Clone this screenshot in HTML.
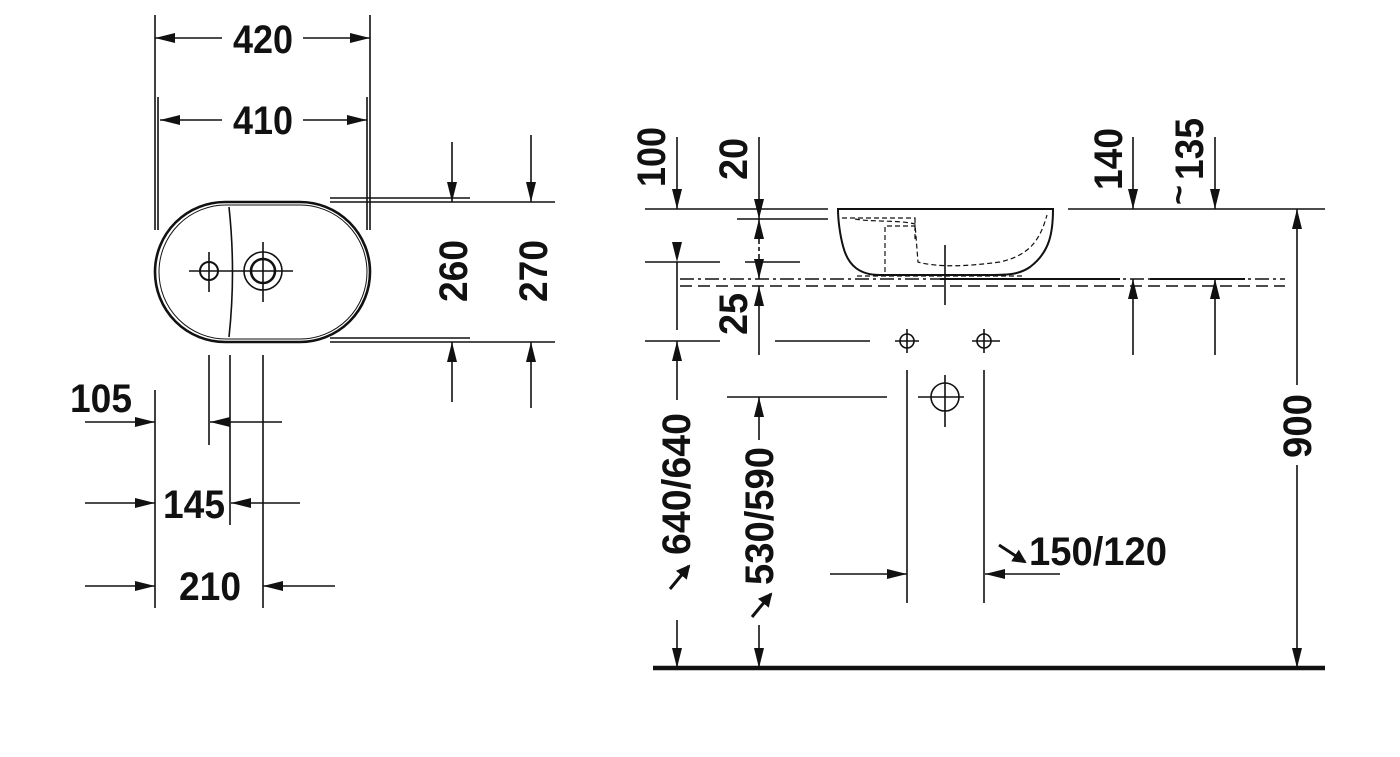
<!DOCTYPE html>
<html><head><style>body{margin:0;background:#fff}svg{display:block}</style></head><body>
<svg width="1400" height="757" viewBox="0 0 1400 757" xmlns="http://www.w3.org/2000/svg" font-family="Liberation Sans, sans-serif" font-weight="bold" font-size="40" fill="#111">
<defs>
<marker id="a" viewBox="0 0 20 10" refX="20" refY="5" markerWidth="20" markerHeight="10" markerUnits="userSpaceOnUse" orient="auto"><path d="M0,0L20,5L0,10z" fill="#111"/></marker>
<marker id="b" viewBox="0 0 20 10" refX="0" refY="5" markerWidth="20" markerHeight="10" markerUnits="userSpaceOnUse" orient="auto"><path d="M20,0L0,5L20,10z" fill="#111"/></marker>
<marker id="c" viewBox="0 0 14 14" refX="12" refY="7" markerWidth="14" markerHeight="14" markerUnits="userSpaceOnUse" orient="auto"><path d="M0,0L14,7L0,14z" fill="#111"/></marker>
</defs>
<g stroke="#111" stroke-width="1.6" fill="none">
<path d="M155,15V230M370,15V230M158,97V230M367,97V230M155,390V608M209,355V445M230,355V525M263,355V608"/>
<path d="M330,202H555M330,198H470M330,342H555M330,338H470"/>
<line x1="222" y1="38" x2="155" y2="38" marker-end="url(#a)"/>
<line x1="303" y1="38" x2="370" y2="38" marker-end="url(#a)"/>
<line x1="222" y1="120" x2="160" y2="120" marker-end="url(#a)"/>
<line x1="303" y1="120" x2="367" y2="120" marker-end="url(#a)"/>
<line x1="452" y1="142" x2="452" y2="202" marker-end="url(#a)"/>
<line x1="452" y1="402" x2="452" y2="342" marker-end="url(#a)"/>
<line x1="531" y1="135" x2="531" y2="202" marker-end="url(#a)"/>
<line x1="531" y1="408" x2="531" y2="342" marker-end="url(#a)"/>
<line x1="85" y1="422" x2="155" y2="422" marker-end="url(#a)"/>
<line x1="282" y1="422" x2="210" y2="422" marker-end="url(#a)"/>
<line x1="85" y1="503" x2="155" y2="503" marker-end="url(#a)"/>
<line x1="300" y1="503" x2="231" y2="503" marker-end="url(#a)"/>
<line x1="85" y1="586" x2="155" y2="586" marker-end="url(#a)"/>
<line x1="335" y1="586" x2="263" y2="586" marker-end="url(#a)"/>
<path d="M225,202H300A70,70 0 0 1 300,342H225A70,70 0 0 1 225,202z" stroke-width="2.6"/>
<path d="M226,205H300A67,67 0 0 1 300,339H226A67,67 0 0 1 226,205z" stroke-width="1"/>
<path d="M229,207Q236,272 229,337"/>
<circle cx="209" cy="271" r="9" stroke-width="2"/>
<path d="M189,271H293M209,252V292M263,242V302"/>
<circle cx="263" cy="271" r="12" stroke-width="2.6"/>
<circle cx="263" cy="271" r="19"/>
<path d="M645,209H828M1068,209H1325M737,219H828M645,262H720M745,262H800M645,341H720M775,341H870M727,397H887"/>
<path d="M838,209H1053C1053,232 1050,252 1030,267C1020,274 1010,275 990,275H880C860,275 848,266 843,246C840,235 838,220 838,209z" stroke-width="2"/>
<path d="M842,218H915V226H885V272M915,218V240M857,276H1025" stroke-dasharray="5,3" stroke-width="1.2"/>
<path d="M855,219C870,222 900,220 915,224L918,262C940,268 970,266 1000,262C1030,255 1040,240 1047,215" stroke-dasharray="5,3" stroke-width="1.2"/>
<path d="M945,245V305"/>
<path d="M680,279H1285" stroke-dasharray="14,4,3,4"/>
<path d="M680,286H1285" stroke-dasharray="12,6"/>
<path d="M940,279H1120M1150,279H1245" stroke-width="2"/>
<line x1="677" y1="137" x2="677" y2="209" marker-end="url(#a)"/>
<line x1="677" y1="330" x2="677" y2="262" marker-end="url(#b)"/>
<line x1="677" y1="400" x2="677" y2="341" marker-end="url(#a)"/>
<line x1="677" y1="620" x2="677" y2="668" marker-end="url(#a)"/>
<line x1="759" y1="137" x2="759" y2="219" marker-end="url(#a)"/>
<line x1="759" y1="240" x2="759" y2="219" marker-end="url(#a)"/>
<line x1="759" y1="258" x2="759" y2="279" marker-end="url(#a)"/>
<path d="M759,240V258" stroke-dasharray="4,3"/>
<line x1="759" y1="355" x2="759" y2="286" marker-end="url(#a)"/>
<line x1="759" y1="440" x2="759" y2="397" marker-end="url(#a)"/>
<line x1="759" y1="625" x2="759" y2="668" marker-end="url(#a)"/>
<line x1="1133" y1="137" x2="1133" y2="209" marker-end="url(#a)"/>
<line x1="1133" y1="355" x2="1133" y2="279" marker-end="url(#a)"/>
<line x1="1215" y1="137" x2="1215" y2="209" marker-end="url(#a)"/>
<line x1="1215" y1="355" x2="1215" y2="279" marker-end="url(#a)"/>
<line x1="1297" y1="385" x2="1297" y2="209" marker-end="url(#a)"/>
<line x1="1297" y1="465" x2="1297" y2="668" marker-end="url(#a)"/>
<circle cx="907" cy="341" r="7"/><circle cx="984" cy="341" r="7"/>
<path d="M895,341H919M907,329V353M972,341H1000M984,329V353"/>
<circle cx="945" cy="397" r="14"/>
<path d="M918,397H964M945,375V427M907,370V603M984,370V603"/>
<line x1="830" y1="574" x2="907" y2="574" marker-end="url(#a)"/>
<line x1="1060" y1="574" x2="985" y2="574" marker-end="url(#a)"/>
<line x1="999" y1="545" x2="1025" y2="562" marker-end="url(#c)" stroke-width="3"/>
<line x1="670" y1="589" x2="689" y2="566" marker-end="url(#c)" stroke-width="3"/>
<line x1="752" y1="617" x2="771" y2="594" marker-end="url(#c)" stroke-width="3"/>
<path d="M653,668H1325" stroke-width="4.5"/>
</g>
<g stroke="none">
<text x="233" y="53" textLength="60" lengthAdjust="spacingAndGlyphs">420</text>
<text x="233" y="134" textLength="60" lengthAdjust="spacingAndGlyphs">410</text>
<text x="70" y="412" textLength="62" lengthAdjust="spacingAndGlyphs">105</text>
<text x="163" y="518" textLength="62" lengthAdjust="spacingAndGlyphs">145</text>
<text x="179" y="600" textLength="62" lengthAdjust="spacingAndGlyphs">210</text>
<text x="1029" y="565" textLength="138" lengthAdjust="spacingAndGlyphs">150/120</text>
<text transform="translate(467,302) rotate(-90)" textLength="62" lengthAdjust="spacingAndGlyphs">260</text>
<text transform="translate(547,302) rotate(-90)" textLength="62" lengthAdjust="spacingAndGlyphs">270</text>
<text transform="translate(665,187) rotate(-90)" textLength="60" lengthAdjust="spacingAndGlyphs">100</text>
<text transform="translate(747,180) rotate(-90)" textLength="42" lengthAdjust="spacingAndGlyphs">20</text>
<text transform="translate(747,335) rotate(-90)" textLength="42" lengthAdjust="spacingAndGlyphs">25</text>
<text transform="translate(1122,190) rotate(-90)" textLength="62" lengthAdjust="spacingAndGlyphs">140</text>
<text transform="translate(1203,180) rotate(-90)" textLength="62" lengthAdjust="spacingAndGlyphs">135</text>
<text transform="translate(1190,205) rotate(-90)" font-size="34">~</text>
<text transform="translate(690,555) rotate(-90)" textLength="142" lengthAdjust="spacingAndGlyphs">640/640</text>
<text transform="translate(773,585) rotate(-90)" textLength="138" lengthAdjust="spacingAndGlyphs">530/590</text>
<text transform="translate(1311,458) rotate(-90)" textLength="64" lengthAdjust="spacingAndGlyphs">900</text>
</g>
</svg>
</body></html>
